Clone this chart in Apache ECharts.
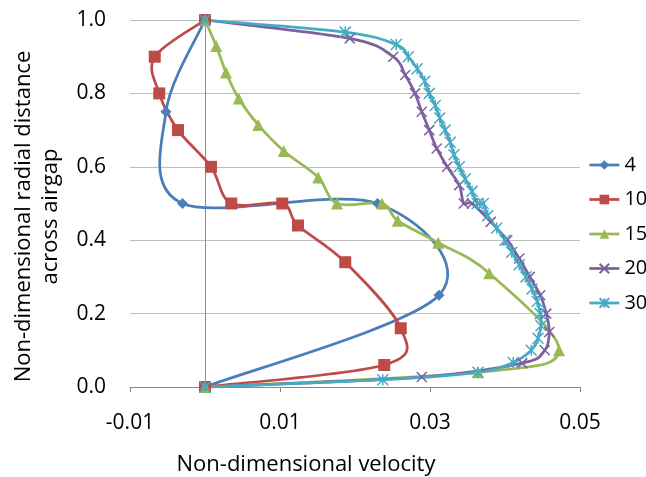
<!DOCTYPE html>
<html>
<head>
<meta charset="utf-8">
<script src="https://cdn.jsdelivr.net/npm/echarts@6/dist/echarts.min.js"></script>
<style>
	html,body{margin:0;padding:0;background:#fff;}
	#chart{width:646px;height:477px;}
</style>
</head>
<body>
<div id="chart"></div>
<script>
	//每条曲线的数据 (x = 速度, y = 径向位置)
	var x4 = [0, -0.0052, -0.003, 0.023, 0.0312, 0];
	var y4 = [1, 0.75, 0.5, 0.5, 0.25, 0];

	var x10 = [0, -0.0067, -0.0061, -0.0036, 0.0008, 0.0035, 0.0103, 0.0124, 0.0187, 0.0261, 0.0239, 0];
	var y10 = [1, 0.9, 0.8, 0.7, 0.6, 0.5, 0.5, 0.44, 0.34, 0.16, 0.06, 0];

	var x15 = [0, 0.0015, 0.0028, 0.0045, 0.0071, 0.0105, 0.0151, 0.0176, 0.0236, 0.0257, 0.0311, 0.0379, 0.0472, 0.0364, 0];
	var y15 = [1, 0.929, 0.857, 0.786, 0.714, 0.643, 0.571, 0.5, 0.5, 0.453, 0.393, 0.31, 0.1, 0.04, 0];

	var x20 = [0, 0.0193, 0.0251, 0.0267, 0.028, 0.0289, 0.0299, 0.0309, 0.0323, 0.0339, 0.0345, 0.0356,
		0.0381, 0.0403, 0.0419, 0.0433, 0.0447, 0.0455, 0.0459, 0.0453, 0.0423, 0.0289, 0];
	var y20 = [1, 0.95, 0.9, 0.85, 0.8, 0.75, 0.7, 0.65, 0.6, 0.55, 0.5, 0.5,
		0.45, 0.4, 0.35, 0.3, 0.25, 0.2, 0.15, 0.1, 0.065, 0.027, 0];

	var x30 = [0, 0.0187, 0.0255, 0.0271, 0.0283, 0.0293, 0.0299, 0.0307, 0.0313, 0.032, 0.0327, 0.0332, 0.0339, 0.0347, 0.0356, 0.0363,
		0.0371, 0.0377, 0.0389, 0.04, 0.0409, 0.0419, 0.0428, 0.0436, 0.0443, 0.0447, 0.0448, 0.0444, 0.0435, 0.0411, 0.0364, 0.0237, 0];
	var y30 = [1, 0.967, 0.933, 0.9, 0.867, 0.833, 0.8, 0.767, 0.733, 0.7, 0.667, 0.633, 0.6, 0.567, 0.533, 0.5,
		0.5, 0.467, 0.433, 0.4, 0.367, 0.333, 0.3, 0.267, 0.233, 0.2, 0.167, 0.133, 0.1, 0.067, 0.04, 0.02, 0];

	var seriesNames = ["4", "10", "15", "20", "30"];
	var xTicks = [-0.01, 0.01, 0.03, 0.05];

	var font = "Open Sans";
	var colors = ["#4A7EBB", "#BE4B48", "#98B954", "#7D60A0", "#46AAC5"];
	var symbols = ["diamond", "rect", "triangle",
		"path://M0,0L10,10M10,0L0,10",
		"path://M0,0L10,10M10,0L0,10M5,0L5,10"];
	var sizes = [11, 12, 12, 10, 11];
	var lineW = 2.75;

	function pairs(xs, ys){
		var out = [];
		for(var i=0;i<xs.length;i++){
			out.push([xs[i], ys[i]]);
		}
		return out;
	}

	var allData = [pairs(x4,y4), pairs(x10,y10), pairs(x15,y15), pairs(x20,y20), pairs(x30,y30)];

	//平滑曲线: 每一段用三次贝塞尔 (类似 Excel 的平滑线)
	function curveSeries(k){
		var pts = allData[k];
		return {
			type: "custom",
			coordinateSystem: "cartesian2d",
			silent: true,
			z: 2,
			data: pts,
			encode: {x: 0, y: 1},
			renderItem: function(params, api){
				var i = params.dataIndex;
				if(i >= pts.length-1){
					return null;
				}
				var a = api.coord(pts[Math.max(i-1,0)]);
				var b = api.coord(pts[i]);
				var c = api.coord(pts[i+1]);
				var d = api.coord(pts[Math.min(i+2,pts.length-1)]);
				return {
					type: "bezierCurve",
					shape: {
						x1: b[0], y1: b[1], x2: c[0], y2: c[1],
						cpx1: b[0]+(c[0]-a[0])/6, cpy1: b[1]+(c[1]-a[1])/6,
						cpx2: c[0]-(d[0]-b[0])/6, cpy2: c[1]-(d[1]-b[1])/6
					},
					style: {stroke: colors[k], lineWidth: lineW, fill: "none", lineCap: "round"}
				};
			}
		};
	}

	var series = [];
	for(var k=0;k<allData.length;k++){
		series.push(curveSeries(k));
	}
	//标记点 (线本身由上面的曲线画)
	for(var i=0;i<allData.length;i++){
		var stroke = i >= 3; //x 和 * 只有描边
		series.push({
			name: seriesNames[i],
			type: "line",
			data: allData[i],
			color: colors[i],
			symbol: symbols[i],
			symbolSize: sizes[i],
			lineStyle: {width: lineW, color: colors[i], opacity: 0},
			itemStyle: {color: colors[i], borderColor: colors[i], borderWidth: stroke ? 1.5 : 0},
			z: 3
		});
	}
	//x=0 处的竖线
	series[5].markLine = {
		silent: true,
		symbol: "none",
		z: 1,
		label: {show: false},
		lineStyle: {color: "#8C8C8C", width: 1, type: "solid"},
		data: [{xAxis: 0}]
	};

	var myChart = echarts.init(document.getElementById("chart"));
	myChart.setOption({
		animation: false,
		textStyle: {fontFamily: font},
		grid: {left: 130, right: 66, top: 20, bottom: 90, outerBoundsMode: "none"},
		legend: {
			orient: "vertical",
			left: 588,
			top: 155,
			itemWidth: 30,
			itemHeight: 12,
			itemGap: 14.5,
			padding: 0,
			data: seriesNames,
			lineStyle: {width: lineW, opacity: 1},
			textStyle: {fontFamily: font, fontSize: 20, color: "#000"}
		},
		xAxis: {
			type: "value",
			min: -0.01,
			max: 0.05,
			name: "Non-dimensional velocity",
			nameLocation: "middle",
			nameGap: 67,
			nameTextStyle: {fontFamily: font, fontSize: 22, color: "#000", padding: [0, 98, 0, 0]},
			axisLine: {lineStyle: {color: "#868686", width: 1}},
			axisTick: {show: true, length: 5, customValues: xTicks, lineStyle: {color: "#868686"}},
			axisLabel: {
				customValues: xTicks,
				margin: 26,
				fontFamily: font,
				fontSize: 21,
				color: "#000",
				formatter: function(v){ return v.toFixed(2); }
			},
			splitLine: {show: false}
		},
		yAxis: {
			type: "value",
			min: 0,
			max: 1,
			interval: 0.2,
			name: "Non-dimensional radial distance\nacross airgap",
			nameLocation: "middle",
			nameRotate: 90,
			nameGap: 66,
			nameTextStyle: {fontFamily: font, fontSize: 22, color: "#000", lineHeight: 27, padding: [0, 26, 0, 0]},
			axisLine: {show: false},
			axisTick: {show: false},
			axisLabel: {
				margin: 24,
				fontFamily: font,
				fontSize: 21,
				color: "#000",
				formatter: function(v){ return v.toFixed(1); }
			},
			splitLine: {lineStyle: {color: "#BEBEBE", width: 1}}
		},
		series: series
	});
</script>
</body>
</html>
